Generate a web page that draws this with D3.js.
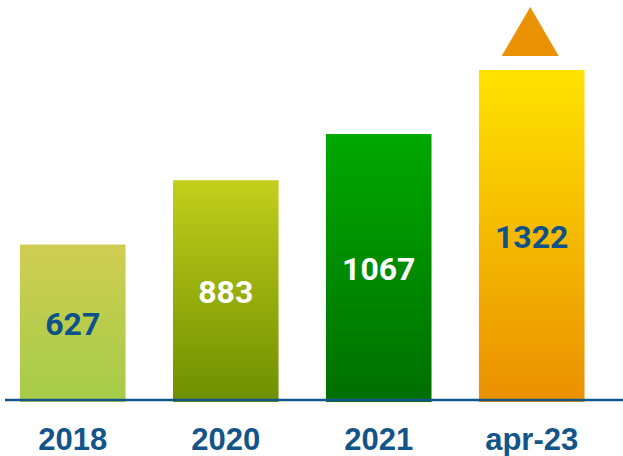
<!DOCTYPE html>
<html>
<head>
<meta charset="utf-8">
<script src="https://cdn.jsdelivr.net/npm/d3@7"></script>
<style>
  html, body { margin: 0; padding: 0; background: #fff; }
  svg { display: block; }
</style>
</head>
<body>
<svg class="chart" width="623" height="456"></svg>
<script>
// data
var categories = ["2018", "2020", "2021", "apr-23"];
var values = [627, 883, 1067, 1322];
var topColors = ["#cfcd52", "#c2cf1c", "#00a800", "#ffe300"];
var bottomColors = ["#a5cc48", "#6e8e00", "#006f00", "#ea9000"];
var labelColors = ["#0f5189", "#ffffff", "#ffffff", "#0f5189"];

var svg = d3.select(".chart");
var width = +svg.attr("width");
var height = +svg.attr("height");
var blue = "#135489";

var x = d3.scaleBand()
  .domain(categories)
  .range([20, 584.5])
  .paddingInner(0.31)
  .paddingOuter(0);

var y = d3.scaleLinear()
  .domain([0, 1322])
  .range([402, 70]);

// gradients, one per bar
var defs = svg.append("defs");
var grad = defs.selectAll("linearGradient")
  .data(categories)
  .enter().append("linearGradient")
    .attr("id", function(d, i){ return "g" + i; })
    .attr("x1", 0).attr("y1", 0).attr("x2", 0).attr("y2", 1);
grad.append("stop").attr("offset", "0%").attr("stop-color", function(d, i){ return topColors[i]; });
grad.append("stop").attr("offset", "100%").attr("stop-color", function(d, i){ return bottomColors[i]; });

// bars
svg.selectAll("rect.bar")
  .data(values)
  .enter().append("rect")
    .attr("class", "bar")
    .attr("x", function(d, i){ return x(categories[i]); })
    .attr("y", function(d){ return y(d); })
    .attr("width", x.bandwidth())
    .attr("height", function(d){ return y(0) - y(d); })
    .attr("fill", function(d, i){ return "url(#g" + i + ")"; });

// baseline
svg.append("line")
  .attr("x1", 5).attr("x2", width)
  .attr("y1", 400).attr("y2", 400)
  .attr("stroke", blue)
  .attr("stroke-width", 2.5);

// value labels in the middle of each bar
svg.selectAll("text.value")
  .data(values)
  .enter().append("text")
    .attr("class", "value")
    .attr("x", function(d, i){ return x(categories[i]) + x.bandwidth() / 2; })
    .attr("y", function(d){ return (y(d) + y(0)) / 2 + 11.5; })
    .attr("text-anchor", "middle")
    .attr("fill", function(d, i){ return labelColors[i]; })
    .style("font-family", "Roboto, sans-serif")
    .style("font-weight", 700)
    .style("font-size", "32px")
    .text(function(d){ return d; });

// category labels
svg.selectAll("text.cat")
  .data(categories)
  .enter().append("text")
    .attr("class", "cat")
    .attr("x", function(d){ return x(d) + x.bandwidth() / 2; })
    .attr("y", 450)
    .attr("text-anchor", "middle")
    .attr("fill", blue)
    .style("font-family", "'Liberation Sans', Arial, sans-serif")
    .style("font-weight", 700)
    .style("font-size", "31px")
    .text(function(d){ return d; });

// up arrow over the last bar
var last = categories[categories.length - 1];
var cx = x(last) + x.bandwidth() / 2 - 1.5;
var barTop = y(values[values.length - 1]);
svg.append("path")
  .attr("d", "M" + (cx - 28.5) + "," + (barTop - 14) +
             "L" + cx + "," + (barTop - 63) +
             "L" + (cx + 28.5) + "," + (barTop - 14) + "Z")
  .attr("fill", "#ea9203");
</script>
</body>
</html>
